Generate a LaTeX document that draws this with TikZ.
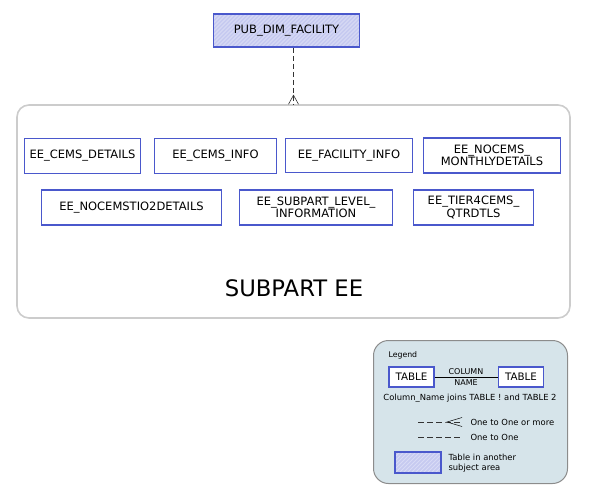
\documentclass[tikz,border=0pt]{standalone}
\usepackage{fontspec}
\setmainfont{DejaVu Sans}
\usetikzlibrary{calc}
\definecolor{tblblue}{HTML}{4A58CC}
\definecolor{hatchfill}{HTML}{C6CAF0}
\definecolor{hatchline}{HTML}{D8DBF5}
\definecolor{areagray}{HTML}{CCCCCC}
\definecolor{legfill}{HTML}{D6E4EA}
\definecolor{leggray}{HTML}{8C8C8C}
\tikzset{
  tbl/.style={draw=tblblue, line width=1.7pt, fill=white, inner sep=0pt, align=center, font=\fontsize{11.5}{12.5}\selectfont},
  hatched/.style={fill=hatchfill, path picture={
    \foreach \i in {-60,-56,...,160}
      \draw[hatchline, line width=0.9pt] ($(path picture bounding box.south west)+(\i,0)$) -- ++(70,-70);}},
  rel/.style={dashed, dash pattern=on 5pt off 3pt, line width=0.6pt, black!80},
  legtxt/.style={font=\fontsize{8.4}{10}\selectfont},
}
\begin{document}
\begin{tikzpicture}[x=1pt,y=-1pt]
\useasboundingbox (0,0) rectangle (591,501);
% subject area
\node[draw=areagray, line width=1.6pt, rounded corners=12pt, minimum width=553pt, minimum height=213pt] (sub) at (293.5,211.5) {};
\node[font=\fontsize{22.7}{26}\selectfont] (subname) at (294,288) {SUBPART EE};
% tables
\node[tbl, hatched, minimum width=146pt, minimum height=33pt] (pub) at (286.5,30.5) {PUB\_DIM\_FACILITY};
\node[tbl, minimum width=116pt, minimum height=35pt] (cemsdet) at (82.5,156) {EE\_CEMS\_DETAILS};
\node[tbl, minimum width=122pt, minimum height=35pt] (cemsinfo) at (215.5,156) {EE\_CEMS\_INFO};
\node[tbl, minimum width=127pt, minimum height=34pt] (facinfo) at (349,155.5) {EE\_FACILITY\_INFO};
\node[tbl, minimum width=137pt, minimum height=35pt] (nocems) at (492,155.5) {EE\_NOCEMS\_\\MONTHLYDETAILS};
\node[tbl, minimum width=180pt, minimum height=35pt] (tio2) at (131.5,207.5) {EE\_NOCEMSTIO2DETAILS};
\node[tbl, minimum width=153pt, minimum height=35pt] (level) at (316,207.5) {EE\_SUBPART\_LEVEL\_\\INFORMATION};
\node[tbl, minimum width=120pt, minimum height=35pt] (tier4) at (473.5,207.5) {EE\_TIER4CEMS\_\\QTRDTLS};
% relationship
\coordinate (foot) at ($(sub.north)+(0,-9)$);
\draw[rel] (pub.south -| sub.north) -- (foot) -- (sub.north);
\draw[line width=0.6pt, black!80] ($(sub.north)+(-5,0)$) -- (foot) -- ($(sub.north)+(5,0)$);
% legend
\node[draw=leggray, line width=1pt, fill=legfill, rounded corners=15pt, minimum width=194pt, minimum height=143pt] (legend) at (470.5,412) {};
\node[font=\fontsize{7.8}{9}\selectfont, anchor=west] (legtitle) at (385,355) {Legend};
\node[tbl, font=\fontsize{10.3}{11}\selectfont, line width=1.5pt, minimum width=45pt, minimum height=20pt] (tabA) at (411.5,377) {TABLE};
\node[tbl, font=\fontsize{10.3}{11}\selectfont, line width=1.5pt, minimum width=45pt, minimum height=20pt] (tabB) at (521,377) {TABLE};
\draw[line width=0.6pt] (tabA.east) -- (tabB.west);
\node[font=\fontsize{8}{8}\selectfont, fill=legfill, inner sep=0.5pt] (colname) at (466,371.5) {COLUMN};
\node[font=\fontsize{8}{8}\selectfont, inner sep=0.5pt] (colname2) at (466,382.5) {NAME};
\node[legtxt] (joins) at (470,398) {Column\_Name joins TABLE ! and TABLE 2};
\coordinate (l1a) at (418,422);
\coordinate (l1b) at (462,422);
\coordinate (l1c) at (447,422);
\draw[rel, dash pattern=on 6pt off 3pt] (l1a) -- (l1c) -- (l1b);
\draw[line width=0.5pt] (462,417.5) -- (l1c) -- (462,426.5);
\node[legtxt, anchor=west] (onemore) at (467,422) {One to One or more};
\coordinate (l2a) at (418,437);
\coordinate (l2b) at (462,437);
\draw[rel, dash pattern=on 6pt off 3pt] (l2a) -- (l2b);
\node[legtxt, anchor=west] (oneone) at (467,437) {One to One};
\node[tbl, hatched, line width=1.5pt, minimum width=46pt, minimum height=21pt] (othertab) at (418,462.5) {};
\node[legtxt, anchor=west, align=left] (othertxt) at (445,463.5) {Table in another\\subject area};
\end{tikzpicture}
\end{document}
